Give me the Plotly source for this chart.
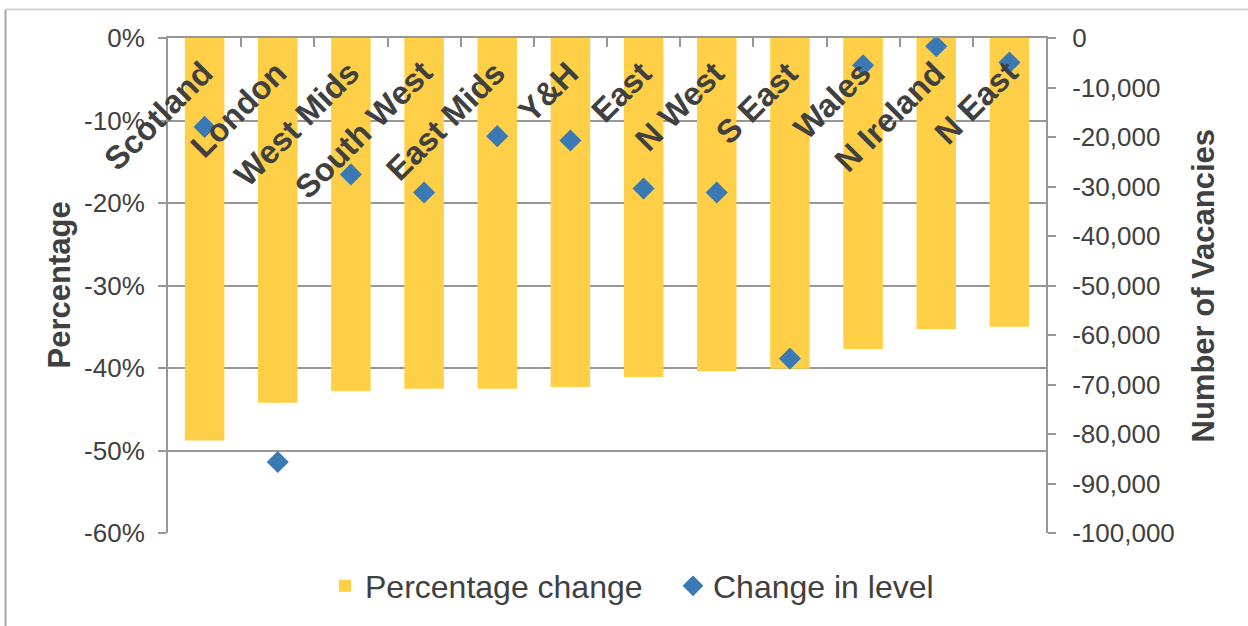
import plotly.graph_objects as go

regions = ["Scotland", "London", "West Mids", "South West", "East Mids", "Y&H",
           "East", "N West", "S East", "Wales", "N Ireland", "N East"]
pct_change = [-48.8, -44.2, -42.8, -42.5, -42.5, -42.3,
              -41.1, -40.4, -40.1, -37.7, -35.3, -35.0]
level_change = [-17960, -85670, -27560, -31200, -19830, -20700,
                -30390, -31200, -64770, -5510, -1680, -4960]

pct_ticks = [0, -10, -20, -30, -40, -50, -60]
pct_ticktext = ["0%", "-10%", "-20%", "-30%", "-40%", "-50%", "-60%"]
lvl_ticks = [0, -10000, -20000, -30000, -40000, -50000, -60000, -70000, -80000, -90000, -100000]
lvl_ticktext = ["0", "-10,000", "-20,000", "-30,000", "-40,000", "-50,000",
                "-60,000", "-70,000", "-80,000", "-90,000", "-100,000"]

FONT = "Liberation Sans, Arial, sans-serif"
TXT = "#404040"
AX = "#979797"
BAR = "#FFCF47"
DIA = "#3A79B3"

fig = go.Figure()
fig.add_trace(go.Bar(x=regions, y=pct_change, name="Percentage change",
                     marker=dict(color=BAR, line=dict(width=0)), yaxis="y"))
fig.add_trace(go.Scatter(x=regions, y=level_change, name="Change in level", mode="markers",
                         marker=dict(symbol="diamond", size=17, color=DIA, line=dict(width=0)),
                         yaxis="y2"))

annotations = []
for r in regions:
    annotations.append(dict(x=r, xref="x", y=1, yref="paper", text="<b>%s</b>" % r,
                            textangle=-45, xanchor="right", yanchor="top",
                            xshift=18, yshift=-14, showarrow=False,
                            font=dict(family=FONT, size=32.5, color=TXT)))
annotations.append(dict(x=(59 - 168) / 878, xref="paper", y=0.5, yref="paper",
                        text="<b>Percentage</b>", textangle=-90, showarrow=False,
                        xanchor="center", yanchor="middle",
                        font=dict(family=FONT, size=31, color=TXT)))
annotations.append(dict(x=(1203 - 168) / 878, xref="paper", y=0.5, yref="paper",
                        text="<b>Number of Vacancies</b>", textangle=-90, showarrow=False,
                        xanchor="center", yanchor="middle",
                        font=dict(family=FONT, size=31, color=TXT)))

fig.update_layout(
    width=1248, height=626,
    margin=dict(l=168, r=202, t=38, b=93, pad=0),
    paper_bgcolor="white", plot_bgcolor="white",
    font=dict(family=FONT, color=TXT),
    bargap=0.46,
    showlegend=True,
    legend=dict(orientation="h", x=(325 - 168) / 878, xanchor="left",
                y=(533 - 586) / 495, yanchor="middle",
                font=dict(family=FONT, size=32, color=TXT),
                bgcolor="rgba(0,0,0,0)", itemsizing="trace", traceorder="normal",
                entrywidth=303, entrywidthmode="pixels"),
    xaxis=dict(side="top", showline=True, linecolor=AX, linewidth=2,
               range=[-0.5, len(regions) - 0.5], autorange=False,
               ticks="inside", ticklen=9, tickwidth=2, tickcolor=AX,
               tickson="boundaries", showticklabels=False, showgrid=False,
               zeroline=False, mirror=False),
    yaxis=dict(range=[-60, 0], autorange=False, tickvals=pct_ticks, ticktext=pct_ticktext,
               showline=True, linecolor=AX, linewidth=2,
               ticks="outside", ticklen=8, tickwidth=2, tickcolor=AX,
               showgrid=True, gridcolor=AX, gridwidth=2, zeroline=False,
               tickfont=dict(family=FONT, size=26, color=TXT), ticklabelstandoff=8),
    yaxis2=dict(range=[-100000, 0], autorange=False, tickvals=lvl_ticks, ticktext=lvl_ticktext,
                overlaying="y", side="right",
                showline=True, linecolor=AX, linewidth=2,
                ticks="outside", ticklen=8, tickwidth=2, tickcolor=AX,
                showgrid=False, zeroline=False,
                tickfont=dict(family=FONT, size=26, color=TXT), ticklabelstandoff=11),
    annotations=annotations,
    shapes=[
        dict(type="line", xref="paper", yref="paper",
             x0=(5.5 - 168) / 878, x1=(5.5 - 168) / 878,
             y0=(533 - 9.5) / 495, y1=(533 - 640) / 495,
             line=dict(color="#A6A6A6", width=2)),
        dict(type="line", xref="paper", yref="paper",
             x0=(5.5 - 168) / 878, x1=(1260 - 168) / 878,
             y0=(533 - 9.5) / 495, y1=(533 - 9.5) / 495,
             line=dict(color="#D4D4D4", width=2)),
    ],
)

fig.write_html("out.html")
